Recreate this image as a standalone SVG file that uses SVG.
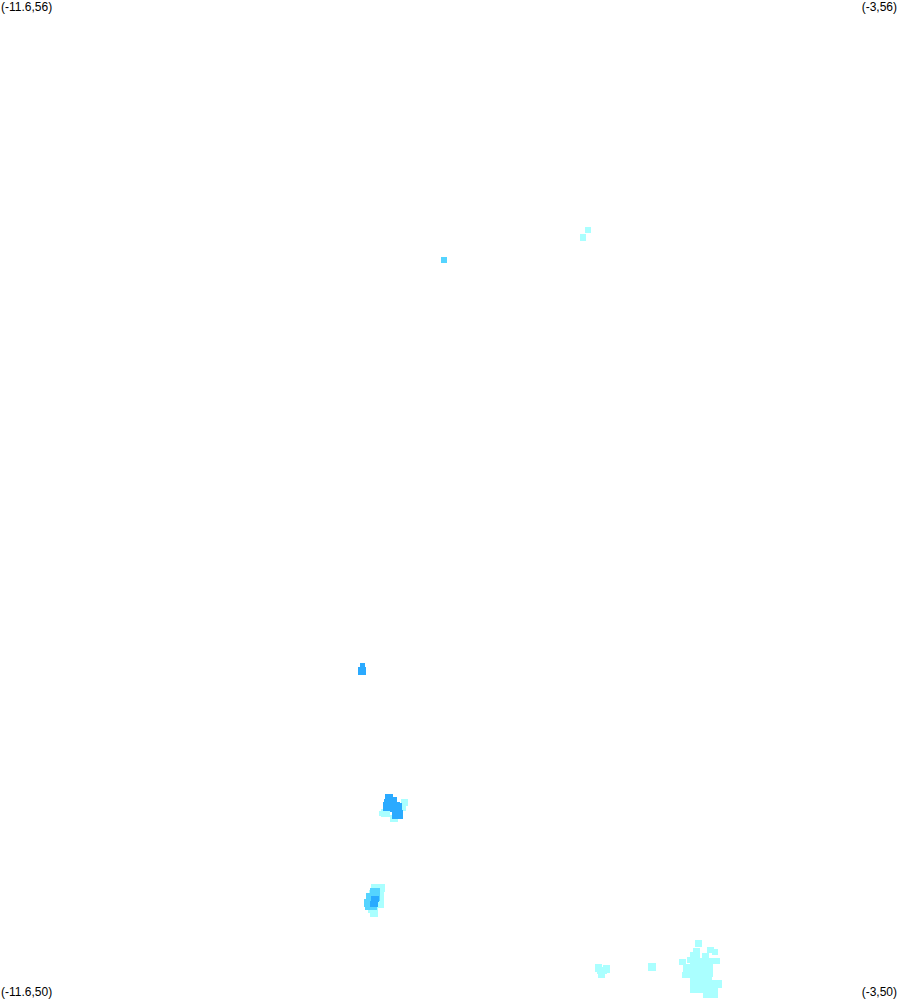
<svg xmlns="http://www.w3.org/2000/svg" width="899" height="999" viewBox="0 0 899 999">
<style>
text{font-family:"Liberation Sans",Arial,sans-serif;font-size:12px;fill:#000}
.l{fill:#aaffff}.m{fill:#55d4ff}.d{fill:#2aaaff}
</style>
<rect width="899" height="999" fill="#fff"/>
<g id="labels">
<text x="1" y="11">(-11.6,56)</text>
<text x="897" y="11" text-anchor="end">(-3,56)</text>
<text x="1" y="996">(-11.6,50)</text>
<text x="897" y="996" text-anchor="end">(-3,50)</text>
</g>
<g id="points-light" class="l">
<rect x="585" y="227" width="6" height="6"/>
<rect x="580" y="234" width="6" height="7"/>
<rect x="401" y="799" width="7" height="7"/><rect x="400" y="803" width="6" height="8"/>
<rect x="381" y="809" width="9" height="8"/><rect x="379" y="811" width="4" height="5"/>
<rect x="390" y="815" width="8" height="7"/>
<rect x="371" y="884" width="14" height="8"/><rect x="369" y="890" width="15" height="18"/><rect x="368" y="908" width="10" height="5"/><rect x="370" y="912" width="8" height="5"/>
<rect x="595" y="964" width="7" height="8"/><rect x="603" y="965" width="7" height="8"/><rect x="597" y="967" width="10" height="7"/><rect x="598" y="973" width="7" height="5"/>
<rect x="648" y="963" width="8" height="8"/>
<rect x="695" y="940" width="7" height="7"/>
<rect x="707" y="947" width="7" height="6"/><rect x="712" y="949" width="6" height="6"/>
<rect x="693" y="948" width="7" height="9"/><rect x="690" y="952" width="10" height="6"/><rect x="702" y="953" width="7" height="6"/>
<rect x="679" y="959" width="7" height="6"/><rect x="687" y="957" width="6" height="6"/>
<rect x="712" y="958" width="8" height="6"/>
<rect x="683" y="964" width="7" height="14"/><rect x="682" y="972" width="8" height="6"/>
<rect x="690" y="963" width="4" height="16"/>
<rect x="693" y="958" width="20" height="19"/>
<rect x="690" y="977" width="22" height="16"/>
<rect x="712" y="980" width="10" height="8"/>
<rect x="703" y="988" width="15" height="10"/>
</g>
<g id="points-mid" class="m">
<rect x="441" y="257" width="6" height="6"/>
<rect x="370" y="888" width="10" height="6"/><rect x="366" y="893" width="14" height="8"/><rect x="364" y="899" width="14" height="8"/><rect x="365" y="906" width="12" height="4"/>
</g>
<g id="points-dark" class="d">
<rect x="360" y="663" width="5" height="5"/><rect x="358" y="667" width="8" height="8"/>
<rect x="385" y="794" width="8" height="6"/><rect x="384" y="799" width="11" height="5"/><rect x="393" y="797" width="4" height="6"/><rect x="383" y="802" width="17" height="9"/><rect x="390" y="804" width="10" height="8"/><rect x="392" y="810" width="11" height="9"/><rect x="397" y="803" width="5" height="8"/>
<rect x="371" y="896" width="8" height="6"/><rect x="370" y="901" width="8" height="6"/>
</g>
</svg>
